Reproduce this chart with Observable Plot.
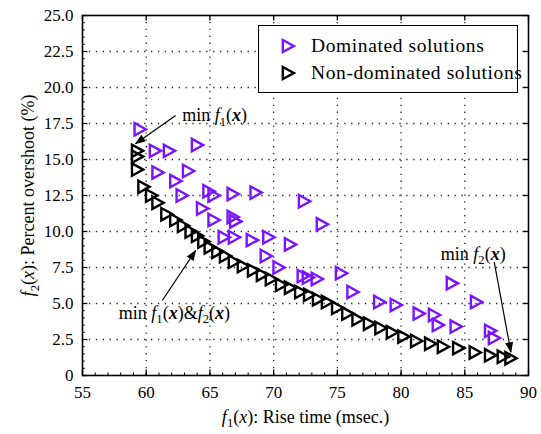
<!DOCTYPE html>
<html>
<head>
<meta charset="utf-8">
<script src="https://cdn.jsdelivr.net/npm/d3@7"></script>
<script src="https://cdn.jsdelivr.net/npm/@observablehq/plot@0.6"></script>
<style>
  body { margin: 0; background: white; }
  #wrap { position: relative; width: 541px; height: 434px; font-family: "Liberation Serif", serif; }
  #legend { position: absolute; left: 258px; top: 25px; width: 258px; height: 66px; border: 1.5px solid black; background: white; overflow: visible; }
  .row { position: absolute; left: 0; white-space: nowrap; font-size: 19.5px; letter-spacing: 0.6px; height: 24px; line-height: 24px; }
  .row svg { position: absolute; left: 21px; top: 4px; }
  .row span { position: absolute; left: 52px; top: 0; }
</style>
</head>
<body>
<div id="wrap"></div>
<script>
// ---- data ----
const xTicks = [55, 60, 65, 70, 75, 80, 85, 90];
const yTicks = [0, 2.5, 5, 7.5, 10, 12.5, 15, 17.5, 20, 22.5, 25];
const xLabel = "f1(x): Rise time (msec.)";
const yLabel = "f2(x): Percent overshoot (%)";
const seriesNames = ["Dominated solutions", "Non-dominated solutions"];

const dominatedX = [59.5, 60.7, 61.8, 64.0, 60.9, 62.3, 63.3, 62.8, 64.9, 65.3, 66.8, 68.6, 72.4, 64.4, 65.3, 66.8, 67.0, 73.8, 66.1, 66.9, 68.3, 69.6, 71.3, 69.4, 70.4, 72.3, 72.7, 73.4, 75.3, 76.2, 78.3, 79.6, 81.4, 82.6, 82.9, 84.3, 84.0, 85.9, 87.0, 87.3];
const dominatedY = [17.1, 15.6, 15.6, 16.0, 14.1, 13.5, 14.2, 12.5, 12.8, 12.5, 12.6, 12.7, 12.1, 11.6, 10.8, 11.0, 10.7, 10.5, 9.6, 9.6, 9.4, 9.6, 9.1, 8.3, 7.5, 6.9, 6.8, 6.7, 7.1, 5.8, 5.1, 4.9, 4.3, 4.2, 3.5, 3.4, 6.4, 5.1, 3.1, 2.6];

const frontX = [59.3, 59.3, 59.3, 59.8, 60.4, 60.9, 61.6, 62.3, 62.9, 63.5, 64.0, 64.5, 65.0, 65.6, 66.2, 66.9, 67.6, 68.4, 69.1, 69.8, 70.6, 71.3, 72.1, 72.8, 73.5, 74.2, 75.0, 75.8, 76.6, 77.5, 78.4, 79.3, 80.2, 81.2, 82.3, 83.3, 84.5, 85.8, 87.0, 88.0, 88.6];
const frontY = [15.6, 15.2, 14.3, 13.1, 12.5, 12.0, 11.2, 10.8, 10.4, 10.0, 9.7, 9.3, 8.9, 8.6, 8.3, 7.9, 7.6, 7.3, 7.0, 6.7, 6.3, 6.1, 5.8, 5.6, 5.3, 5.1, 4.7, 4.3, 3.9, 3.6, 3.3, 3.0, 2.7, 2.4, 2.2, 2.0, 1.9, 1.6, 1.4, 1.3, 1.2];

const annText = ["min f1(x)", "min f1(x)&f2(x)", "min f2(x)"];
const annX = [62.83, 57.85, 83.12];
const annY = [18.06, 4.33, 8.45];
const arrowX1 = [62.31, 61.26, 87.31];
const arrowY1 = [18.06, 5.21, 7.87];
const arrowX2 = [59.16, 63.88, 88.62];
const arrowY2 = [16.10, 8.68, 1.62];

// ---- derived tables ----
const dominated = dominatedX.map((x, i) => ({x, y: dominatedY[i]}));
const front = frontX.map((x, i) => ({x, y: frontY[i]}));
const annotations = annText.map((t, i) => ({t, x: annX[i], y: annY[i]}));
const arrows = arrowX1.map((x1, i) => ({x1, y1: arrowY1[i], x2: arrowX2[i], y2: arrowY2[i]}));
const xGrid = xTicks.slice(1, -1);
const yGrid = yTicks.slice(1, -1);
const xMinor = d3.range(55, 90.01, 1);
const yMinor = d3.range(0, 25.01, 0.5);

const PURPLE = "#7a14ff";

// right-pointing triangle symbol
const triRight = {
  draw(ctx, size) {
    const s = Math.sqrt(size);
    ctx.moveTo(0.68 * s, 0);
    ctx.lineTo(-0.6 * s, -0.7 * s);
    ctx.lineTo(-0.6 * s, 0.7 * s);
    ctx.closePath();
  }
};

const chart = Plot.plot({
  width: 541,
  height: 434,
  marginLeft: 82,
  marginRight: 13,
  marginTop: 15,
  marginBottom: 59,
  style: {fontFamily: "Liberation Serif", fontSize: "17px", background: "white", color: "black"},
  x: {domain: [55, 90], ticks: xTicks, tickSize: 0, tickPadding: 10, label: xLabel, labelAnchor: "center", labelOffset: 47, labelArrow: "none"},
  y: {domain: [0, 25], ticks: yTicks, tickSize: 0, tickPadding: 9, tickFormat: d => d === 0 ? "0" : d.toFixed(1), label: yLabel, labelAnchor: "center", labelOffset: 61, labelArrow: "none"},
  marks: [
    Plot.ruleX(xGrid, {stroke: "#222", strokeWidth: 1.3, strokeDasharray: "1.3,5.6"}),
    Plot.ruleY(yGrid, {stroke: "#222", strokeWidth: 1.3, strokeDasharray: "1.3,5.6"}),
    Plot.ruleX(xMinor, {y1: 0, y2: 0.18, stroke: "black", strokeWidth: 1}),
    Plot.ruleY(yMinor, {x1: 55, x2: 55.22, stroke: "black", strokeWidth: 1}),
    Plot.ruleX(xTicks, {y1: 0, y2: 0.38, stroke: "black", strokeWidth: 1.3}),
    Plot.ruleX(xTicks, {y1: 25, y2: 24.62, stroke: "black", strokeWidth: 1.3}),
    Plot.ruleY(yTicks, {x1: 55, x2: 55.42, stroke: "black", strokeWidth: 1.3}),
    Plot.ruleY(yTicks, {x1: 90, x2: 89.58, stroke: "black", strokeWidth: 1.3}),
    Plot.frame({stroke: "black", strokeWidth: 1.6}),
    Plot.dot(dominated, {x: "x", y: "y", symbol: triRight, r: 5, stroke: PURPLE, strokeWidth: 2.4, fill: "none"}),
    Plot.dot(front, {x: "x", y: "y", symbol: triRight, r: 5, stroke: "black", strokeWidth: 2.4, fill: "none"}),
    Plot.link(arrows, {x1: "x1", y1: "y1", x2: "x2", y2: "y2", stroke: "black", strokeWidth: 1.2}),
    Plot.text(annotations, {x: "x", y: "y", text: "t", textAnchor: "start", fontSize: 18})
  ]
});

const wrap = document.getElementById("wrap");
wrap.appendChild(chart);
const svg = chart.tagName.toLowerCase() === "svg" ? chart : chart.querySelector("svg");
const NS = "http://www.w3.org/2000/svg";

// filled arrowheads
const defs = document.createElementNS(NS, "defs");
const marker = document.createElementNS(NS, "marker");
marker.setAttribute("id", "ahead");
marker.setAttribute("viewBox", "0 -5 12 10");
marker.setAttribute("refX", "11");
marker.setAttribute("refY", "0");
marker.setAttribute("markerWidth", "12");
marker.setAttribute("markerHeight", "9");
marker.setAttribute("markerUnits", "userSpaceOnUse");
marker.setAttribute("orient", "auto");
const mp = document.createElementNS(NS, "path");
mp.setAttribute("d", "M0,-4.5L12,0L0,4.5Z");
mp.setAttribute("fill", "black");
marker.appendChild(mp);
defs.appendChild(marker);
svg.insertBefore(defs, svg.firstChild);
svg.querySelectorAll('g[aria-label="link"] path, g[aria-label="link"] line').forEach(p => p.setAttribute("marker-end", "url(#ahead)"));

// rich text (italic f, subscripts, bold-italic x)
const richMap = {
  [xLabel]: [["f", "i"], ["1", "sub"], ["(", ""], ["x", "i"], ["): Rise time (msec.)", ""]],
  [yLabel]: [["f", "i"], ["2", "sub"], ["(", ""], ["x", "i"], ["): Percent overshoot (%)", ""]],
  "min f1(x)": [["min ", ""], ["f", "i"], ["1", "sub"], ["(", ""], ["x", "bi"], [")", ""]],
  "min f1(x)&f2(x)": [["min ", ""], ["f", "i"], ["1", "sub"], ["(", ""], ["x", "bi"], [")&", ""], ["f", "i"], ["2", "sub"], ["(", ""], ["x", "bi"], [")", ""]],
  "min f2(x)": [["min ", ""], ["f", "i"], ["2", "sub"], ["(", ""], ["x", "bi"], [")", ""]]
};
function rich(el, parts, fs) {
  while (el.firstChild) el.removeChild(el.firstChild);
  let shifted = false;
  for (const [s, st] of parts) {
    const t = document.createElementNS(NS, "tspan");
    t.textContent = s;
    if (st === "i") t.setAttribute("font-style", "italic");
    if (st === "bi") { t.setAttribute("font-style", "italic"); t.setAttribute("font-weight", "bold"); }
    if (st === "sub") { t.setAttribute("font-size", fs * 0.7); t.setAttribute("dy", fs * 0.25); shifted = true; }
    else if (shifted) { t.setAttribute("dy", -fs * 0.25); shifted = false; }
    el.appendChild(t);
  }
}
svg.querySelectorAll("text").forEach(el => {
  const key = el.textContent.replace(/[\u2190-\u2193]/g, "").trim();
  if (richMap[key]) {
    el.setAttribute("font-size", 18);
    el.style.fontSize = "18px";
    rich(el, richMap[key], 18);
  }
});

// legend
const legend = document.createElement("div");
legend.id = "legend";
const colors = [PURPLE, "black"];
seriesNames.forEach((name, i) => {
  const row = document.createElement("div");
  row.className = "row";
  row.style.top = (8 + i * 27) + "px";
  row.innerHTML = `<svg width="16" height="16" viewBox="-8 -8 16 16"><path d="M5.8,0L-5.2,-6L-5.2,6Z" fill="none" stroke="${colors[i]}" stroke-width="2.4"/></svg><span>${name}</span>`;
  legend.appendChild(row);
});
wrap.appendChild(legend);
</script>
</body>
</html>
